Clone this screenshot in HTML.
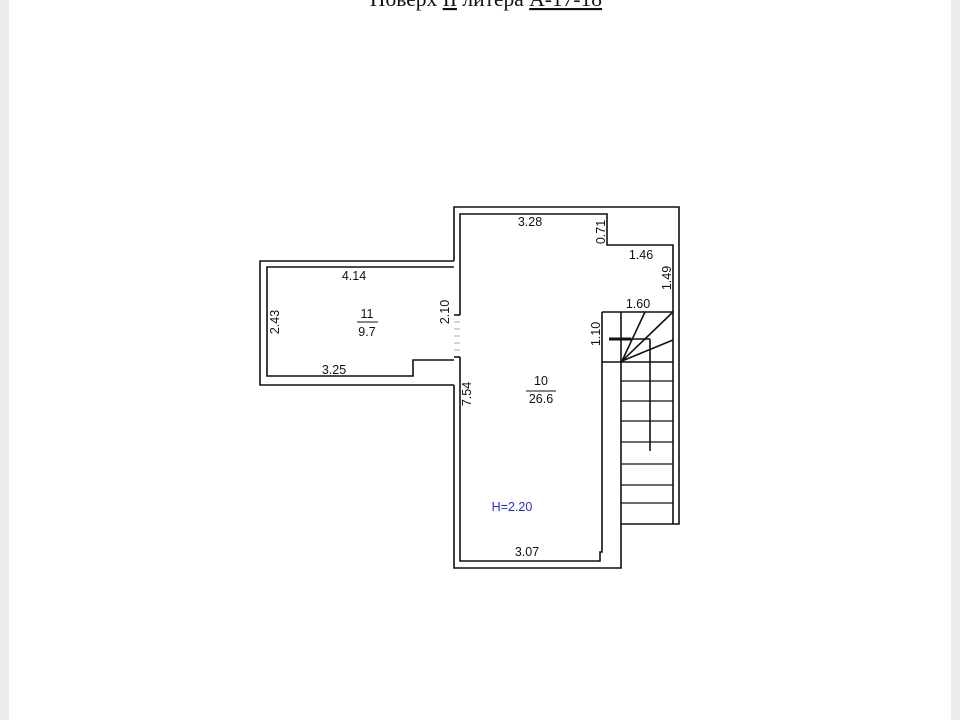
<!DOCTYPE html>
<html><head><meta charset="utf-8"><style>
html,body{margin:0;padding:0;background:#fff;}
svg{display:block;}
text{font-family:"Liberation Sans",sans-serif;font-size:12.5px;fill:#111;}
</style></head><body>
<svg width="960" height="720" viewBox="0 0 960 720" xmlns="http://www.w3.org/2000/svg">
<rect x="0" y="0" width="9" height="720" fill="#ececee"/>
<rect x="951" y="0" width="9" height="720" fill="#ececee"/>
<text x="486" y="6" text-anchor="middle" style="font-family:'Liberation Serif',serif;font-size:21.5px">Поверх <tspan text-decoration="underline">II</tspan> литера <tspan text-decoration="underline">А-17-18</tspan></text>
<g fill="none" stroke="#111" stroke-width="1.6">
<polyline points="454,261 454,207 679,207 679,524 621,524 621,568 454,568 454,385"/>
<polyline points="460,315 460,214 607,214 607,245 673,245 673,312"/>
<polyline points="460,357 460,561 600,561 600,552 602,552 602,312"/>
<polyline points="454,261 260,261 260,385 454,385"/>
<polyline points="454,267 267,267 267,376 413,376 413,360 454,360"/>
<line x1="454" y1="315" x2="460" y2="315"/>
<line x1="454" y1="357" x2="460" y2="357"/>
<polyline points="602,312 673,312 673,524"/>
<line x1="602" y1="362" x2="673" y2="362"/>
<line x1="621" y1="312" x2="621" y2="524"/>
<line x1="650" y1="339" x2="650" y2="451"/>
<line x1="620" y1="339" x2="650" y2="339"/>
<line x1="622" y1="361" x2="645" y2="312"/>
<line x1="622" y1="361" x2="673" y2="312"/>
<line x1="622" y1="361" x2="673" y2="340"/>
</g>
<g stroke="#111" stroke-width="1.3">
<line x1="621" y1="381" x2="673" y2="381"/>
<line x1="621" y1="401" x2="673" y2="401"/>
<line x1="621" y1="421" x2="673" y2="421"/>
<line x1="621" y1="442" x2="673" y2="442"/>
<line x1="621" y1="464" x2="673" y2="464"/>
<line x1="621" y1="485" x2="673" y2="485"/>
<line x1="621" y1="503" x2="673" y2="503"/>
</g>
<g stroke="#aaa" stroke-width="1">
<line x1="454" y1="322" x2="460" y2="322"/>
<line x1="454" y1="329" x2="460" y2="329"/>
<line x1="454" y1="336" x2="460" y2="336"/>
<line x1="454" y1="343" x2="460" y2="343"/>
<line x1="454" y1="350" x2="460" y2="350"/>
</g>
<line x1="609" y1="339" x2="631" y2="339" stroke="#111" stroke-width="3"/>
<text x="530" y="226" text-anchor="middle">3.28</text>
<text transform="translate(605,232) rotate(-90)" text-anchor="middle">0.71</text>
<text x="641" y="259" text-anchor="middle">1.46</text>
<text transform="translate(671,278) rotate(-90)" text-anchor="middle">1.49</text>
<text x="638" y="308" text-anchor="middle">1.60</text>
<text transform="translate(600,334) rotate(-90)" text-anchor="middle">1.10</text>
<text x="354" y="280" text-anchor="middle">4.14</text>
<text transform="translate(279,322) rotate(-90)" text-anchor="middle">2.43</text>
<text x="367" y="318" text-anchor="middle">11</text>
<line x1="357" y1="322" x2="378" y2="322" stroke="#111" stroke-width="1"/>
<text x="367" y="336" text-anchor="middle">9.7</text>
<text transform="translate(449,312) rotate(-90)" text-anchor="middle">2.10</text>
<text x="334" y="374" text-anchor="middle">3.25</text>
<text transform="translate(471,394) rotate(-90)" text-anchor="middle">7.54</text>
<text x="541" y="385" text-anchor="middle">10</text>
<line x1="526" y1="391" x2="556" y2="391" stroke="#111" stroke-width="1"/>
<text x="541" y="403" text-anchor="middle">26.6</text>
<text x="512" y="511" text-anchor="middle" style="fill:#2a2ad0">H=2.20</text>
<text x="527" y="556" text-anchor="middle">3.07</text>
</svg>
</body></html>
